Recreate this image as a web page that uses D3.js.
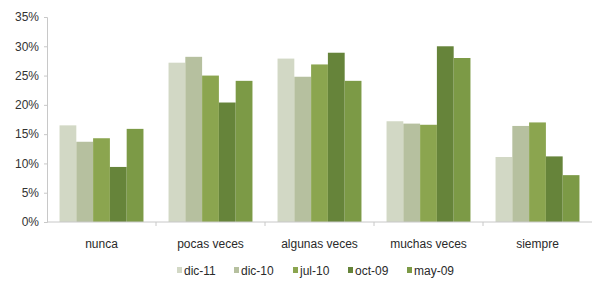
<!DOCTYPE html>
<html>
<head>
<meta charset="utf-8">
<script src="https://cdn.jsdelivr.net/npm/d3@7"></script>
<style>
  body { margin: 0; background: #fff; }
  svg { display: block; font-family: "Liberation Sans", Arial, sans-serif; }
</style>
</head>
<body>
<div id="chart"></div>
<script>
  'use strict';

  // categories and series
  var categories = ['nunca', 'pocas veces', 'algunas veces', 'muchas veces', 'siempre'];
  var seriesNames = ['dic-11', 'dic-10', 'jul-10', 'oct-09', 'may-09'];
  var dic11 = [16.5, 27.2, 27.9, 17.2, 11.1];
  var dic10 = [13.7, 28.2, 24.8, 16.8, 16.4];
  var jul10 = [14.3, 25.0, 26.9, 16.6, 17.0];
  var oct09 = [9.4, 20.4, 28.9, 30.0, 11.2];
  var may09 = [15.9, 24.1, 24.1, 28.0, 8.0];
  var yTicks = [0, 5, 10, 15, 20, 25, 30, 35];

  var seriesValues = [dic11, dic10, jul10, oct09, may09];
  var colors = ['#d2d8c5', '#b6c09f', '#8ba54f', '#66843a', '#7c9a46'];

  var width = 593, height = 289;
  var margin = {top: 17, right: 1, bottom: 67, left: 47};

  var svg = d3.select('#chart').append('svg')
    .attr('width', width)
    .attr('height', height);

  var x0 = d3.scaleBand()
    .domain(categories)
    .range([margin.left, width - margin.right])
    .paddingInner(0.23)
    .paddingOuter(0.115);

  var x1 = d3.scaleBand()
    .domain(seriesNames)
    .range([0, x0.bandwidth()]);

  var y = d3.scaleLinear()
    .domain([0, 35])
    .range([height - margin.bottom, margin.top]);

  var color = d3.scaleOrdinal().domain(seriesNames).range(colors);

  // bars
  var groups = svg.append('g').selectAll('g')
    .data(categories)
    .enter().append('g')
      .attr('transform', function (d) { return 'translate(' + x0(d) + ',0)'; });

  groups.selectAll('rect')
    .data(function (d, i) {
      return seriesNames.map(function (s, j) {
        return {s: s, v: seriesValues[j][i]};
      });
    })
    .enter().append('rect')
      .attr('x', function (d) { return x1(d.s); })
      .attr('width', x1.bandwidth())
      .attr('y', function (d) { return y(d.v); })
      .attr('height', function (d) { return y(0) - y(d.v); })
      .attr('fill', function (d) { return color(d.s); });

  // y axis
  var yAxis = svg.append('g')
    .attr('transform', 'translate(' + margin.left + ',0)')
    .call(d3.axisLeft(y).tickValues(yTicks).tickSize(3)
      .tickFormat(function (d) { return d + '%'; }));
  yAxis.select('.domain').attr('stroke', '#c8c8c8');
  yAxis.selectAll('.tick line').attr('stroke', '#c8c8c8');
  yAxis.selectAll('text').attr('fill', '#333').attr('font-size', 12).attr('x', -8);

  // x axis
  var xAxis = svg.append('g')
    .attr('transform', 'translate(0,' + y(0) + ')');
  xAxis.append('line')
    .attr('x1', margin.left).attr('x2', width - margin.right)
    .attr('stroke', '#c8c8c8');
  xAxis.selectAll('.sep')
    .data(categories.slice(1))
    .enter().append('line')
      .attr('class', 'sep')
      .attr('x1', function (d) { return x0(d) - x0.step() * x0.paddingInner() / 2; })
      .attr('x2', function (d) { return x0(d) - x0.step() * x0.paddingInner() / 2; })
      .attr('y1', 0).attr('y2', 4)
      .attr('stroke', '#c8c8c8');
  xAxis.selectAll('text')
    .data(categories)
    .enter().append('text')
      .attr('x', function (d) { return x0(d) + x0.bandwidth() / 2; })
      .attr('y', 26)
      .attr('text-anchor', 'middle')
      .attr('font-size', 12)
      .attr('fill', '#2a2a2a')
      .text(function (d) { return d; });

  // legend
  var legendX = [177, 234, 293, 348, 407];
  var legend = svg.append('g').selectAll('g')
    .data(seriesNames)
    .enter().append('g')
      .attr('transform', function (d, i) { return 'translate(' + legendX[i] + ',275)'; });
  legend.append('rect')
    .attr('x', 0).attr('y', -8)
    .attr('width', 5).attr('height', 6)
    .attr('fill', function (d) { return color(d); });
  legend.append('text')
    .attr('x', 7).attr('y', 0)
    .attr('font-size', 12)
    .attr('fill', '#2a2a2a')
    .text(function (d) { return d; });
</script>
</body>
</html>
